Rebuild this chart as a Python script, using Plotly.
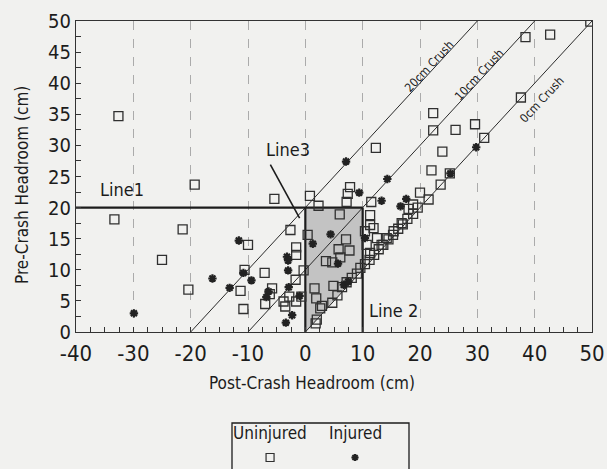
import plotly.graph_objects as go

# ---------------- data ----------------
uninj_x = [-32.6, -19.3, -33.3, -21.4, -25.0, -20.4, -10.0, -10.6, -11.3, -10.8,
           -5.4, -2.6, -1.6, -1.6, -7.1, -0.3, -1.7, -5.8, -6.2, -0.7,
           -2.8, -3.8, -1.6, -7.0, -3.5, 0.8, 2.3, 7.2, 7.4, 7.8,
           6.0, 11.5, 12.3, 22.0, 22.3, 22.3, 26.2, 23.9, 29.6, 31.2,
           25.2, 23.6, 20.0, 21.5, 38.4, 42.7, 49.7, 37.6, 0.4, 7.1,
           5.8, 7.7, 3.6, 4.7, 6.1, 1.6, 1.9, 2.6, 2.9, 4.7,
           2.0, 4.9, 1.8, 5.6, 6.4, 7.2, 8.1, 9.0, 9.6, 10.4,
           11.2, 12.0, 12.8, 13.6, 14.5, 15.3, 16.2, 17.0, 17.8, 18.8,
           19.6, 11.3, 11.9, 12.5, 11.3, 10.7, 10.4, 11.3, 18.0, 18.8,
           16.8, 15.4, 14.2, 13.3]
uninj_y = [34.7, 23.7, 18.1, 16.5, 11.6, 6.8, 14.0, 10.0, 6.6, 3.7,
           21.4, 16.4, 13.6, 12.4, 9.5, 9.9, 8.4, 7.0, 6.1, 5.7,
           5.7, 4.9, 4.9, 4.5, 4.1, 21.9, 20.3, 20.9, 22.2, 23.3,
           18.9, 20.9, 29.6, 26.0, 35.2, 32.4, 32.5, 29.0, 33.4, 31.2,
           25.5, 23.7, 22.4, 21.3, 47.4, 47.8, 49.9, 37.7, 15.6, 14.9,
           13.3, 13.1, 11.4, 11.2, 12.0, 7.0, 5.4, 3.8, 4.2, 4.7,
           2.0, 7.4, 1.4, 5.9, 7.2, 8.0, 8.7, 9.4, 10.3, 10.9,
           11.6, 12.4, 13.3, 14.0, 14.9, 15.6, 16.6, 17.3, 18.2, 19.0,
           20.0, 18.8, 16.7, 15.1, 12.7, 14.0, 16.2, 17.2, 19.8, 20.5,
           17.5, 16.2, 15.1, 14.0]

inj_x = [-29.9, -16.2, -13.2, -11.6, -10.8, -9.4, 1.3, 4.4, -3.2, -3.0,
         5.7, -3.0, -2.9, -6.4, -1.0, -2.3, -3.4, 6.7, 7.5, 9.4,
         13.3, 14.3, 7.1, 17.6, 16.6, 25.3, 29.8, 10.4, -6.8]
inj_y = [3.0, 8.6, 7.1, 14.7, 9.5, 8.3, 14.2, 15.7, 12.1, 11.5,
         11.0, 9.9, 7.2, 6.5, 5.8, 2.7, 1.5, 7.6, 8.1, 22.4,
         21.1, 24.6, 27.4, 21.4, 20.2, 25.5, 29.7, 15.1, 5.6]

crush_levels = [0, 10, 20]
crush_labels = ["0cm Crush", "10cm Crush", "20cm Crush"]
crush_label_x = [41.2, 30.3, 21.7]
crush_label_y = [37.3, 41.3, 42.7]

x_ticks = [-40, -30, -20, -10, 0, 10, 20, 30, 40, 50]
x_ticktext = ["-40", "-30", "-20", "-10", "0", "10", "20", "30", "40", "50"]
y_ticks = [0, 5, 10, 15, 20, 25, 30, 35, 40, 45, 50]

line1_y = 20      # pre-crash headroom threshold
line2_x = 10      # post-crash headroom threshold
line3_x = 0

FONT = "Liberation Sans Narrow, DejaVu Sans Condensed, Roboto Condensed, Arial Narrow, Liberation Sans, sans-serif"
INK = "#1c1c1c"
BG = "#f1f1ef"

fig = go.Figure()

# shaded region between Line1, Line2, Line3 and 0cm crush line
fig.add_trace(go.Scatter(
    x=[line3_x, line3_x, line2_x, line2_x, line3_x],
    y=[0, line1_y, line1_y, line2_x, 0],
    mode="lines", fill="toself", fillcolor="#c3c3c3",
    line=dict(width=0), hoverinfo="skip", showlegend=False))

# crush diagonals
for c in crush_levels:
    fig.add_trace(go.Scatter(x=[-c, 50 - c], y=[0, 50], mode="lines",
                             line=dict(color="#2a2a2a", width=1),
                             hoverinfo="skip", showlegend=False))

# Line1, Line2, Line3
fig.add_trace(go.Scatter(x=[-40, line2_x], y=[line1_y, line1_y], mode="lines",
                         line=dict(color=INK, width=2.2), showlegend=False))
fig.add_trace(go.Scatter(x=[line2_x, line2_x], y=[0, line1_y], mode="lines",
                         line=dict(color=INK, width=2.2), showlegend=False))
fig.add_trace(go.Scatter(x=[line3_x, line3_x], y=[0, line1_y], mode="lines",
                         line=dict(color=INK, width=2.2), showlegend=False))
# Line3 pointer
fig.add_trace(go.Scatter(x=[-6.1, -1.0], y=[26.9, 18.3], mode="lines",
                         line=dict(color=INK, width=1.6), showlegend=False))

# data points
fig.add_trace(go.Scatter(x=uninj_x, y=uninj_y, mode="markers", name="Uninjured",
                         marker=dict(symbol="square-open", size=9, color="#303030",
                                     line=dict(width=1.3)), showlegend=False))
fig.add_trace(go.Scatter(x=inj_x, y=inj_y, mode="markers", name="Injured",
                         marker=dict(symbol="asterisk", size=7, color="#222",
                                     line=dict(width=2.2, color="#222")),
                         showlegend=False))

# legend markers on a small overlay axis
fig.add_trace(go.Scatter(x=[0.215], y=[0.25], xaxis="x2", yaxis="y2", mode="markers",
                         marker=dict(symbol="square-open", size=8, color="#303030",
                                     line=dict(width=1.2)), showlegend=False))
fig.add_trace(go.Scatter(x=[0.695], y=[0.25], xaxis="x2", yaxis="y2", mode="markers",
                         marker=dict(symbol="asterisk", size=6, color="#222",
                                     line=dict(width=2, color="#222")), showlegend=False))

C = dict(xanchor="center", yanchor="middle", showarrow=False)
annotations = []
for lab, lx, ly in zip(crush_labels, crush_label_x, crush_label_y):
    annotations.append(dict(x=lx, y=ly, text=lab, textangle=-47,
                            font=dict(family=FONT, size=12, color=INK), **C))
annotations += [
    dict(x=-32.0, y=22.9, text="Line1", font=dict(family=FONT, size=18, color=INK), **C),
    dict(x=15.3, y=3.5, text="Line 2", font=dict(family=FONT, size=18, color=INK), **C),
    dict(x=-3.0, y=29.3, text="Line3", font=dict(family=FONT, size=18, color=INK), **C),
    dict(xref="paper", yref="paper", x=(312 - 76) / 516, y=(469 - 383) / 448,
         text="Post-Crash Headroom (cm)", font=dict(family=FONT, size=17, color=INK), **C),
    dict(xref="paper", yref="paper", x=(22 - 76) / 516, y=(469 - 185) / 448,
         text="Pre-Crash Headroom (cm)", textangle=-90,
         font=dict(family=FONT, size=17, color=INK), **C),
    dict(xref="x2", yref="y2", x=0.215, y=0.78, text="Uninjured",
         font=dict(family=FONT, size=17, color=INK), **C),
    dict(xref="x2", yref="y2", x=0.70, y=0.78, text="Injured",
         font=dict(family=FONT, size=17, color=INK), **C),
]

shapes = [dict(type="rect", xref="paper", yref="paper",
               x0=(232 - 76) / 516, x1=(409 - 76) / 516,
               y0=-0.06, y1=(469 - 423) / 448,
               line=dict(color=INK, width=1.3), fillcolor="rgba(0,0,0,0)")]

fig.update_layout(
    width=607, height=469,
    margin=dict(l=76, r=15, t=21, b=0, autoexpand=False),
    paper_bgcolor=BG, plot_bgcolor=BG,
    showlegend=False,
    annotations=annotations, shapes=shapes,
    xaxis=dict(range=[-40, 50], tickvals=x_ticks, ticktext=x_ticktext,
               ticks="inside", ticklen=5, ticklabelstandoff=1, automargin=False,
               tickcolor="#333", showline=True, linecolor="#333", linewidth=1.2,
               mirror=True, showgrid=True, gridcolor="#ababab", griddash="dash",
               gridwidth=1, zeroline=False, anchor="y",
               tickfont=dict(family=FONT, size=22, color=INK),
               minor=dict(dtick=2.5, ticks="inside", ticklen=5, tickcolor="#333",
                          showgrid=False)),
    yaxis=dict(range=[0, 50], tickvals=y_ticks, ticks="inside", ticklen=5,
               automargin=False,
               tickcolor="#333", showline=True, linecolor="#333", linewidth=1.2,
               mirror=True, showgrid=False, zeroline=False,
               domain=[(469 - 332) / 448, 1],
               tickfont=dict(family=FONT, size=20, color=INK),
               minor=dict(dtick=2.5, ticks="inside", ticklen=5, tickcolor="#333")),
    xaxis2=dict(domain=[(232 - 76) / 516, (409 - 76) / 516], range=[0, 1],
                anchor="y2", visible=False, automargin=False),
    yaxis2=dict(domain=[0, (469 - 423) / 448], range=[0, 1], anchor="x2",
                visible=False, automargin=False),
)

fig.write_html("out.html", config={"displayModeBar": False},
               post_script="document.body.style.margin='0';document.body.style.background='%s';" % BG)
